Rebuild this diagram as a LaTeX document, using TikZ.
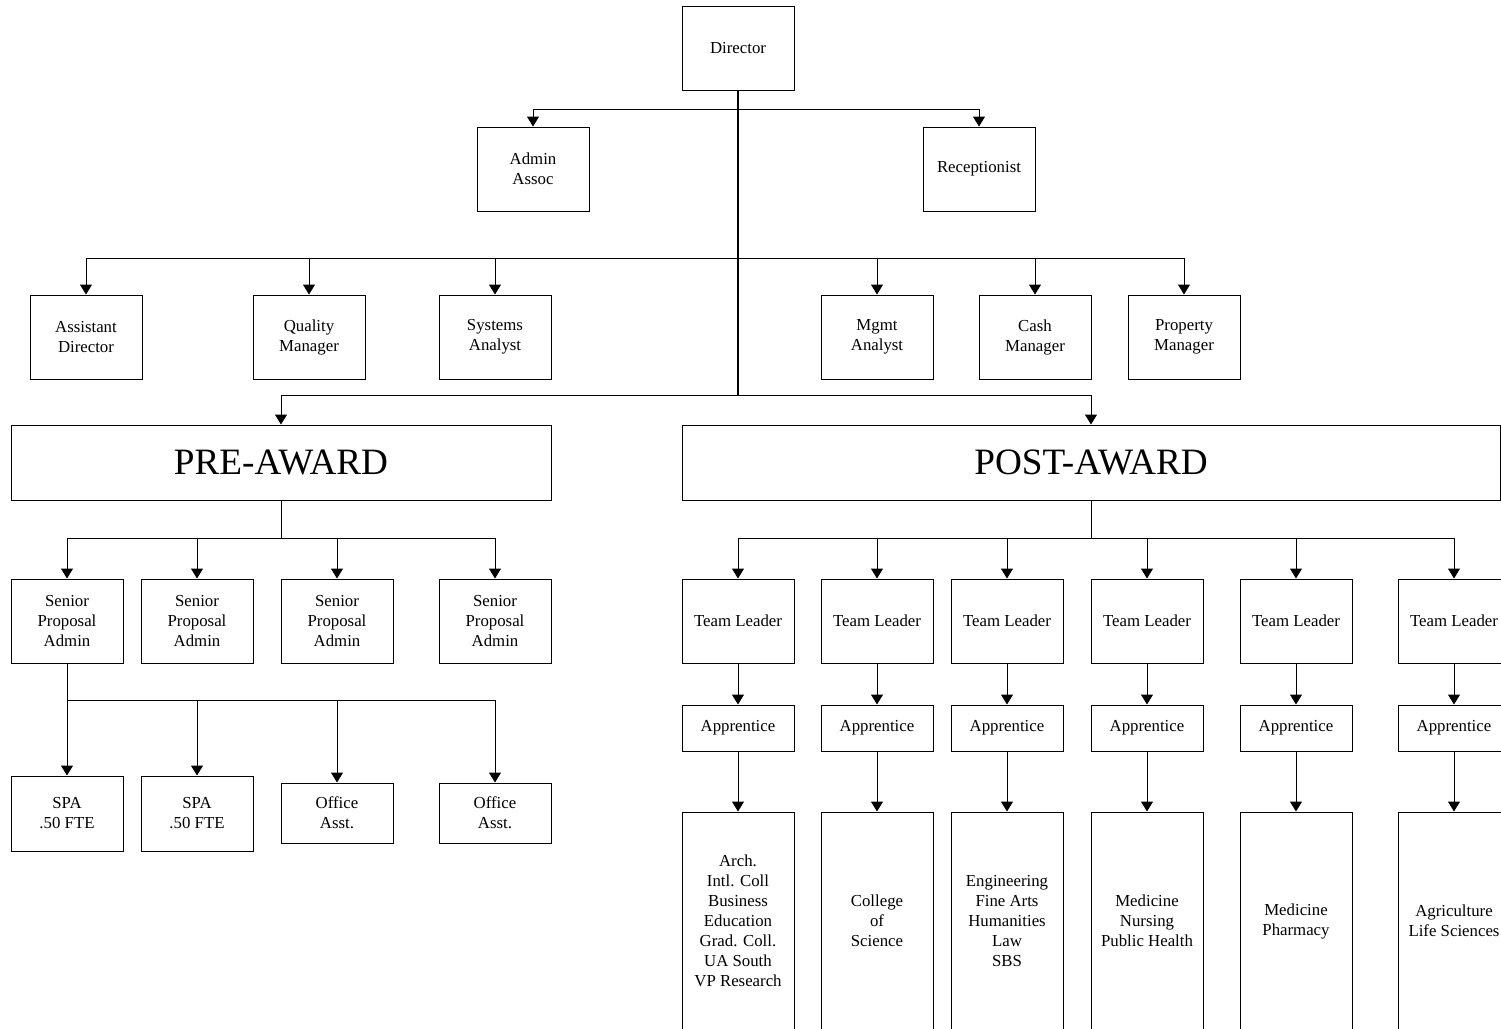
\documentclass[tikz,border=0pt]{standalone}
\usepackage{fontspec}
\setmainfont{Liberation Serif}
\usetikzlibrary{arrows.meta}

\begin{document}
\begin{tikzpicture}[
  x=0.5pt, y=-0.5pt,
  box/.style={draw, line width=0.5pt, align=center, inner sep=0pt, minimum width=56pt, minimum height=42pt, font=\fontsize{8.4}{10}\selectfont},
  bigbox/.style={box, minimum height=37.5pt, font=\fontsize{18.6}{22}\selectfont},
  arrow/.style={-{Triangle[length=5pt,width=6pt]}, line width=0.5pt},
  trunk/.style={line width=1pt}
]
\useasboundingbox (0,0) rectangle (1501,1029);
% top of the chart
\node[box] (dir) at (738,48) {Director};
\node[box] (adm) at (533,169) {Admin\\Assoc};
\node[box] (rec) at (979,169) {Receptionist};
\node[box] (asst) at (86,337) {Assistant\\Director};
\node[box] (qual) at (309,337) {Quality\\Manager};
\node[box] (sys) at (495,337) {Systems\\Analyst};
\node[box] (mgmt) at (877,337) {Mgmt\\Analyst};
\node[box] (cash) at (1035,337) {Cash\\Manager};
\node[box] (prop) at (1184,337) {Property\\Manager};
\node[bigbox, minimum width=270pt] (pre) at (281,462.5) {PRE-AWARD};
\node[bigbox, minimum width=409pt] (post) at (1091,462.5) {POST-AWARD};
\coordinate (b1) at (738,109);
\coordinate (b2) at (738,258);
\coordinate (b3) at (738,395);
\draw[trunk] (dir.south) -- (b3);
\draw[arrow] (b1) -| (adm);
\draw[arrow] (b1) -| (rec);
\foreach \n in {asst,qual,sys,mgmt,cash,prop}
  \draw[arrow] (b2) -| (\n);
\draw[arrow] (b3) -| (pre);
\draw[arrow] (b3) -| (post);
% pre-award
\node[box] (sa1) at (67,621) {Senior\\Proposal\\Admin};
\node[box] (sa2) at (197,621) {Senior\\Proposal\\Admin};
\node[box] (sa3) at (337,621) {Senior\\Proposal\\Admin};
\node[box] (sa4) at (495,621) {Senior\\Proposal\\Admin};
\node[box, minimum height=37.5pt] (spa1) at (67,813.5) {SPA\\.50 FTE};
\node[box, minimum height=37.5pt] (spa2) at (197,813.5) {SPA\\.50 FTE};
\node[box, minimum height=30pt] (off1) at (337,813) {Office\\Asst.};
\node[box, minimum height=30pt] (off2) at (495,813) {Office\\Asst.};
\coordinate (p1) at (281,538);
\coordinate (p2) at (67,700);
\draw (pre) -- (p1);
\foreach \n in {sa1,sa2,sa3,sa4}
  \draw[arrow] (p1) -| (\n);
\draw (sa1) -- (p2);
\foreach \n in {spa1,spa2,off1,off2}
  \draw[arrow] (p2) -| (\n);
% post-award
\coordinate (q1) at (1091,538);
\draw (post) -- (q1);
\foreach \i/\x/\txt in {1/738/{Arch.\\Intl. Coll\\Business\\Education\\Grad. Coll.\\UA South\\VP Research},
    2/877/{College\\of\\Science},
    3/1007/{Engineering\\Fine Arts\\Humanities\\Law\\SBS},
    4/1147/{Medicine\\Nursing\\Public Health},
    5/1296/{Medicine\\Pharmacy},
    6/1454/{Agriculture\\Life Sciences}}{
  \node[box] (tl\i) at (\x,621) {Team Leader};
  \node[box, minimum height=23pt] (ap\i) at (\x,728) {Apprentice};
  \node[box, minimum height=109pt] (col\i) at (\x,921) {\txt};
  \draw[arrow] (q1) -| (tl\i);
  \draw[arrow] (tl\i) -- (ap\i);
  \draw[arrow] (ap\i) -- (col\i);
}
\end{tikzpicture}
\end{document}
